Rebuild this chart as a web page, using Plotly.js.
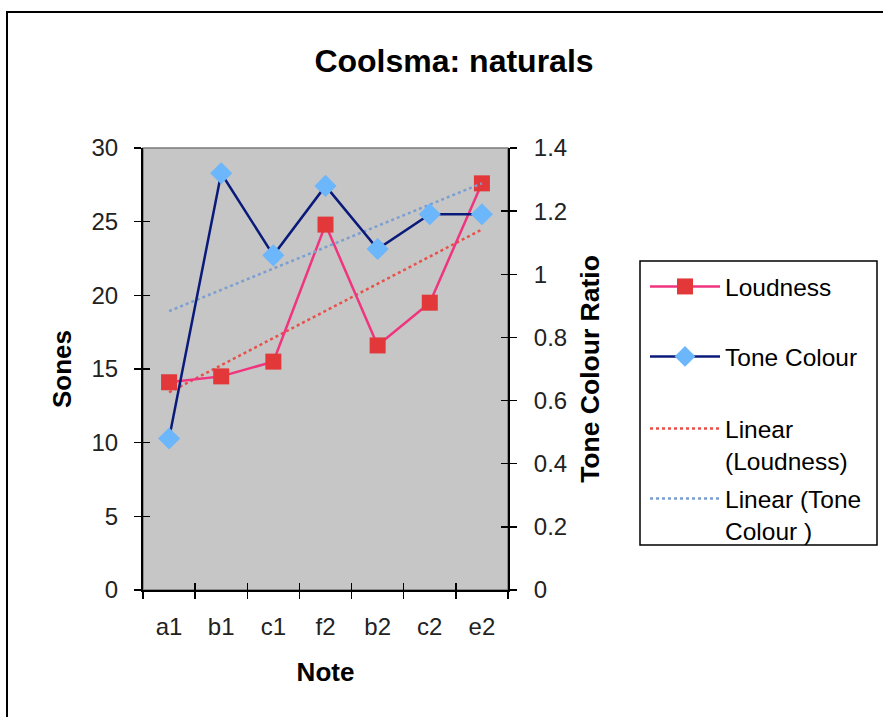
<!DOCTYPE html>
<html>
<head>
<meta charset="utf-8">
<script src="https://cdn.plot.ly/plotly-3.0.1.min.js"></script>
<style>
  html, body { margin: 0; padding: 0; background: #ffffff; }
  #chart { width: 883px; height: 717px; }
</style>
</head>
<body>
<div id="chart"></div>
<script>
// ---- data ----
const notes = ["a1", "b1", "c1", "f2", "b2", "c2", "e2"];
const loudness = [14.1, 14.5, 15.5, 24.8, 16.6, 19.5, 27.6];
const toneColour = [0.48, 1.32, 1.06, 1.28, 1.08, 1.19, 1.19];
const sonesTicks = [0, 5, 10, 15, 20, 25, 30];
const ratioTicks = [0, 0.2, 0.4, 0.6, 0.8, 1, 1.2, 1.4];
const ratioTickText = ["0", "0.2", "0.4", "0.6", "0.8", "1", "1.2", "1.4"];
const boundaryTicks = [-0.5, 0.5, 1.5, 2.5, 3.5, 4.5, 5.5, 6.5];

// least-squares linear trendline (like Excel "Linear" trendline)
function linearFit(ys) {
  const n = ys.length;
  const xs = ys.map((_, i) => i + 1);
  const mx = xs.reduce((a, b) => a + b, 0) / n;
  const my = ys.reduce((a, b) => a + b, 0) / n;
  let sxy = 0, sxx = 0;
  for (let i = 0; i < n; i++) { sxy += (xs[i] - mx) * (ys[i] - my); sxx += (xs[i] - mx) * (xs[i] - mx); }
  const slope = sxy / sxx, icpt = my - slope * mx;
  return xs.map(x => icpt + slope * x);
}
const loudTrend = linearFit(loudness);
const toneTrend = linearFit(toneColour);

const FONT = "Liberation Sans, Arial, Helvetica, sans-serif";

const traces = [
  { type: "scatter", mode: "lines", x: notes, y: loudTrend, name: "Linear<br>(Loudness)",
    line: { color: "#e8504a", width: 2.5, dash: "dot" }, legend: "legend3", hoverinfo: "skip" },
  { type: "scatter", mode: "lines", x: notes, y: toneTrend, yaxis: "y2", name: "Linear (Tone<br>Colour )",
    line: { color: "#7c9fd0", width: 2.5, dash: "dot" }, legend: "legend4", hoverinfo: "skip" },
  { type: "scatter", mode: "lines+markers", x: notes, y: toneColour, yaxis: "y2", name: "Tone Colour",
    line: { color: "#0a1a7a", width: 2.5 },
    marker: { symbol: "diamond", size: 17, color: "#6cb6fb" }, legend: "legend2" },
  { type: "scatter", mode: "lines+markers", x: notes, y: loudness, name: "Loudness",
    line: { color: "#f0347e", width: 2.5 },
    marker: { symbol: "square", size: 16, color: "#e2383a" }, legend: "legend" },
  // helper axes for the inner half of the crossing tick marks
  { type: "scatter", x: [], y: [], xaxis: "x2", yaxis: "y", showlegend: false, hoverinfo: "skip" },
  { type: "scatter", x: [], y: [], xaxis: "x", yaxis: "y3", showlegend: false, hoverinfo: "skip" },
  { type: "scatter", x: [], y: [], xaxis: "x", yaxis: "y4", showlegend: false, hoverinfo: "skip" }
];

const L = 143, R = 508, T = 148, B = 590;
const px2x = p => (p - L) / (R - L);
const px2y = p => (B - p) / (B - T);

const legendBase = {
  bgcolor: "rgba(0,0,0,0)", borderwidth: 0, xanchor: "left", yanchor: "top",
  font: { family: FONT, size: 24.5, color: "#000" }, itemwidth: 70, valign: "top",
  x: px2x(645)
};

const TICKFONT = { family: FONT, size: 24, color: "#222" };

const layout = {
  width: 883, height: 717,
  paper_bgcolor: "#ffffff",
  plot_bgcolor: "#c6c6c6",
  margin: { l: L, r: 883 - R, t: T, b: 717 - B, pad: 0 },
  font: { family: FONT, size: 24, color: "#000" },
  title: { text: "Coolsma: naturals", font: { family: FONT, size: 32, weight: "bold", color: "#000" },
           xref: "container", yref: "container", x: 454 / 883, xanchor: "center", y: 1 - 61 / 717, yanchor: "middle" },
  xaxis: {
    type: "category", categoryarray: notes, range: [-0.5, 6.5],
    showline: true, linecolor: "#000", linewidth: 2,
    ticks: "outside", tickson: "boundaries", ticklen: 7, tickwidth: 1.5, tickcolor: "#000",
    showgrid: false, zeroline: false, ticklabelstandoff: 14,
    tickfont: TICKFONT,
    title: { text: "Note", font: { family: FONT, size: 26, weight: "bold", color: "#000" }, standoff: 24 }
  },
  xaxis2: {
    overlaying: "x", anchor: "y", side: "bottom", type: "linear", range: [-0.5, 6.5],
    tickvals: boundaryTicks, ticks: "inside", ticklen: 7, tickwidth: 1.5, tickcolor: "#000",
    showticklabels: false, showline: false, showgrid: false, zeroline: false
  },
  yaxis: {
    range: [0, 30], tickvals: sonesTicks,
    showline: true, linecolor: "#000", linewidth: 2,
    ticks: "outside", ticklen: 7, tickwidth: 1.5, tickcolor: "#000",
    showgrid: false, zeroline: false, ticklabelstandoff: 11,
    tickfont: TICKFONT,
    title: { text: "Sones", font: { family: FONT, size: 26, weight: "bold", color: "#000" }, standoff: 12 }
  },
  yaxis2: {
    overlaying: "y", anchor: "x", side: "right", range: [0, 1.4],
    tickvals: ratioTicks, ticktext: ratioTickText,
    showline: true, linecolor: "#000", linewidth: 2,
    ticks: "outside", ticklen: 7, tickwidth: 1.5, tickcolor: "#000",
    showgrid: false, zeroline: false, ticklabelstandoff: 12,
    tickfont: TICKFONT,
    title: { text: "Tone Colour Ratio", font: { family: FONT, size: 26.5, weight: "bold", color: "#000" }, standoff: 14 }
  },
  yaxis3: {
    overlaying: "y", anchor: "x", side: "left", range: [0, 30], tickvals: sonesTicks,
    ticks: "inside", ticklen: 7, tickwidth: 1.5, tickcolor: "#000",
    showticklabels: false, showline: false, showgrid: false, zeroline: false
  },
  yaxis4: {
    overlaying: "y", anchor: "x", side: "right", range: [0, 1.4], tickvals: ratioTicks,
    ticks: "inside", ticklen: 7, tickwidth: 1.5, tickcolor: "#000",
    showticklabels: false, showline: false, showgrid: false, zeroline: false
  },
  legend: Object.assign({}, legendBase, { y: px2y(264) }),
  legend2: Object.assign({}, legendBase, { y: px2y(334) }),
  legend3: Object.assign({}, legendBase, { y: px2y(406) }),
  legend4: Object.assign({}, legendBase, { y: px2y(476) }),
  shapes: [
    // plot area frame (grey)
    { type: "rect", xref: "paper", yref: "paper", x0: 0, x1: 1, y0: 0, y1: 1,
      line: { color: "#7a7a7a", width: 1.5 }, layer: "below" },
    // legend box
    { type: "rect", xref: "paper", yref: "paper", x0: px2x(640), x1: px2x(877), y0: px2y(545), y1: px2y(261),
      line: { color: "#000", width: 1.5 } },
    // outer chart border
    { type: "rect", xref: "paper", yref: "paper", x0: px2x(7), x1: px2x(1000), y0: px2y(800), y1: px2y(12),
      line: { color: "#000", width: 2 } }
  ],
  showlegend: true,
  hovermode: false
};

Plotly.newPlot("chart", traces, layout, { displayModeBar: false, staticPlot: true });
</script>
</body>
</html>
